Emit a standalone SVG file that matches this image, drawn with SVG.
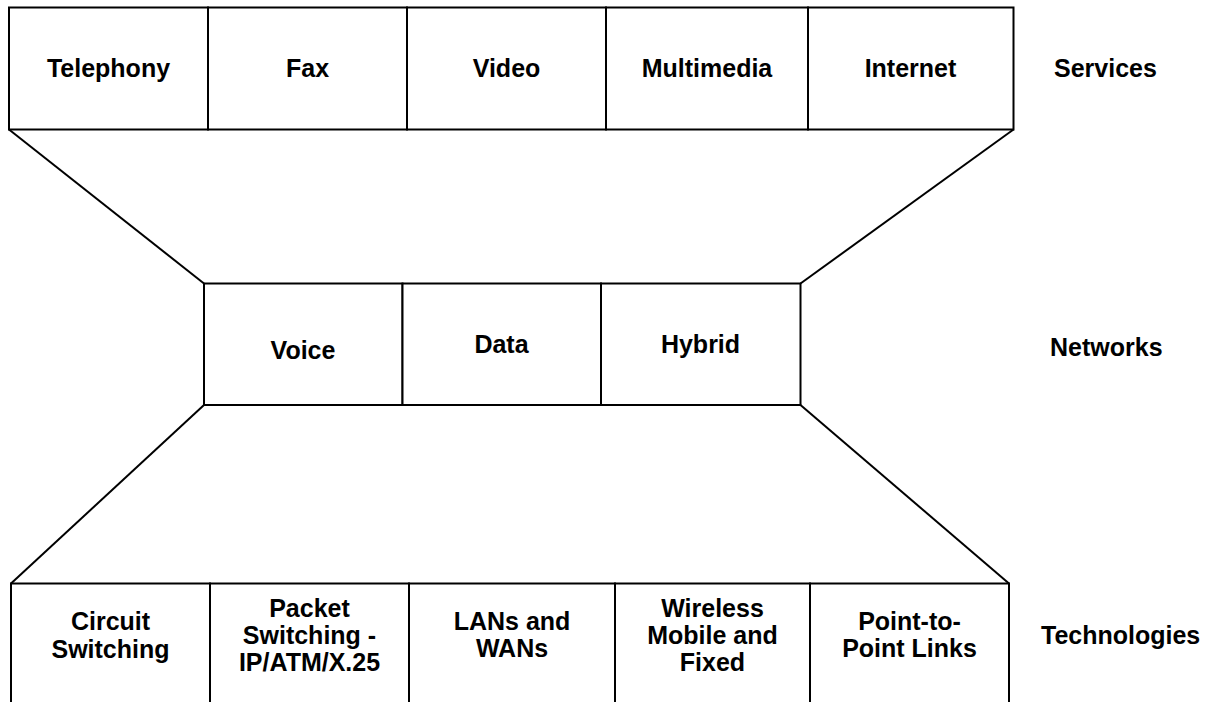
<svg xmlns="http://www.w3.org/2000/svg" width="1217" height="702" viewBox="0 0 1217 702">
<style>
.box{fill:#fff;stroke:#000;stroke-width:2}
.ln{stroke:#000;stroke-width:2;fill:none}
text{font-family:"Liberation Sans",Arial,sans-serif;font-weight:bold;font-size:25px;fill:#000;text-anchor:middle}
.lbl{text-anchor:start}
</style>
<rect width="1217" height="702" fill="#fff"/>
<g id="connectors">
<line class="ln" x1="9" y1="129.5" x2="204" y2="283.5"/>
<line class="ln" x1="1013.5" y1="129.5" x2="800.5" y2="283.5"/>
<line class="ln" x1="204" y1="405" x2="11" y2="583.5"/>
<line class="ln" x1="800.5" y1="405" x2="1009" y2="583.5"/>
</g>
<g id="services">
<g id="telephony"><rect class="box" x="9" y="7.5" width="199" height="122"/><text x="108.5" y="76.5">Telephony</text></g>
<g id="fax"><rect class="box" x="208" y="7.5" width="199" height="122"/><text x="307.5" y="76.5">Fax</text></g>
<g id="video"><rect class="box" x="407" y="7.5" width="199" height="122"/><text x="506.5" y="76.5">Video</text></g>
<g id="multimedia"><rect class="box" x="606" y="7.5" width="202" height="122"/><text x="707" y="76.5">Multimedia</text></g>
<g id="internet"><rect class="box" x="808" y="7.5" width="205.5" height="122"/><text x="910.5" y="76.5">Internet</text></g>
</g>
<g id="networks">
<g id="voice"><rect class="box" x="204" y="283.5" width="198.5" height="121.5"/><text x="303" y="358.5">Voice</text></g>
<g id="data"><rect class="box" x="402.5" y="283.5" width="198.5" height="121.5"/><text x="501.5" y="352.5">Data</text></g>
<g id="hybrid"><rect class="box" x="601" y="283.5" width="199.5" height="121.5"/><text x="700.5" y="352.5">Hybrid</text></g>
</g>
<g id="technologies">
<g id="circuit"><rect class="box" x="11" y="583.5" width="199" height="130"/><text x="110.5" y="630">Circuit</text><text x="110.5" y="658">Switching</text></g>
<g id="packet"><rect class="box" x="210" y="583.5" width="199" height="130"/><text x="309.5" y="617">Packet</text><text x="309.5" y="644">Switching -</text><text x="309.5" y="671">IP/ATM/X.25</text></g>
<g id="lans"><rect class="box" x="409" y="583.5" width="206" height="130"/><text x="512" y="630">LANs and</text><text x="512" y="657">WANs</text></g>
<g id="wireless"><rect class="box" x="615" y="583.5" width="195" height="130"/><text x="712.5" y="617">Wireless</text><text x="712.5" y="644">Mobile and</text><text x="712.5" y="671">Fixed</text></g>
<g id="p2p"><rect class="box" x="810" y="583.5" width="199" height="130"/><text x="909.5" y="630">Point-to-</text><text x="909.5" y="657">Point Links</text></g>
</g>
<g id="layer-labels">
<text class="lbl" x="1054" y="76.5">Services</text>
<text class="lbl" x="1050" y="355.5">Networks</text>
<text class="lbl" x="1041" y="643.5">Technologies</text>
</g>
</svg>
